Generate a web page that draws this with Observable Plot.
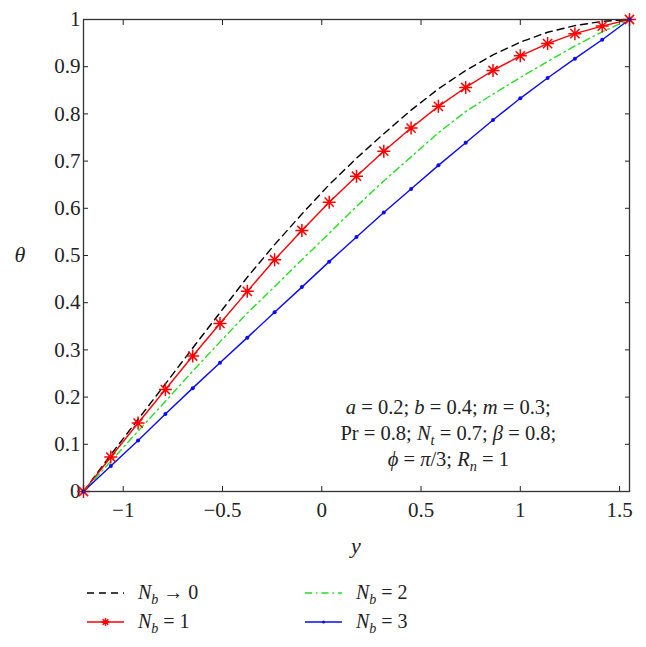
<!DOCTYPE html>
<html><head><meta charset="utf-8">
<script src="https://cdn.jsdelivr.net/npm/d3@7"></script>
<script src="https://cdn.jsdelivr.net/npm/@observablehq/plot@0.6"></script>
<style>
body{margin:0;background:#fff;}
#chart{width:646px;height:647px;position:relative;font-family:"Liberation Serif","Times New Roman",serif;}
#chart text, #chart svg{font-family:"Liberation Serif","Times New Roman","DejaVu Serif",serif !important;}
#legend{position:absolute;left:0;top:565px;}
</style></head><body><div id="chart"></div>
<script>
// ---- data ----
const yPos = [-1.2, -1.0625, -0.925, -0.7875, -0.65, -0.5125, -0.375, -0.2375, -0.1, 0.0375, 0.175,
              0.3125, 0.45, 0.5875, 0.725, 0.8625, 1.0, 1.1375, 1.275, 1.4125, 1.55];
const thetaNb0 = [0, 0.078, 0.153, 0.228, 0.304, 0.379, 0.454, 0.523, 0.588, 0.650, 0.706,
                  0.758, 0.808, 0.853, 0.892, 0.925, 0.952, 0.973, 0.987, 0.996, 1.0];
const thetaNb1 = [0, 0.073, 0.145, 0.216, 0.287, 0.356, 0.424, 0.491, 0.553, 0.613, 0.668,
                  0.721, 0.770, 0.816, 0.856, 0.892, 0.923, 0.949, 0.970, 0.986, 1.0];
const thetaNb2 = [0, 0.064, 0.128, 0.191, 0.255, 0.317, 0.378, 0.434, 0.491, 0.547, 0.604,
                  0.658, 0.709, 0.760, 0.805, 0.842, 0.877, 0.911, 0.944, 0.974, 1.0];
const thetaNb3 = [0, 0.054, 0.108, 0.164, 0.219, 0.273, 0.326, 0.380, 0.433, 0.487, 0.539,
                  0.591, 0.641, 0.691, 0.739, 0.787, 0.833, 0.876, 0.917, 0.957, 1.0];
const xTicks = [-1, -0.5, 0, 0.5, 1, 1.5];
const yTicks = [0, 0.1, 0.2, 0.3, 0.4, 0.5, 0.6, 0.7, 0.8, 0.9, 1];
const seriesNames = ["Nb0", "Nb1", "Nb2", "Nb3"];
const legendLabels = [
  [["N", "i"], ["b", "is"], [" → 0", ""]],
  [["N", "i"], ["b", "is"], [" = 1", ""]],
  [["N", "i"], ["b", "is"], [" = 2", ""]],
  [["N", "i"], ["b", "is"], [" = 3", ""]]
];
const annotationLines = [
  [["a", "i"], [" = 0.2; ", ""], ["b", "i"], [" = 0.4; ", ""], ["m", "i"], [" = 0.3;", ""]],
  [["Pr = 0.8; ", ""], ["N", "i"], ["t", "is"], [" = 0.7; ", ""], ["β", "i"], [" = 0.8;", ""]],
  [["ϕ", "i"], [" = ", ""], ["π", "i"], ["/3; ", ""], ["R", "i"], ["n", "is"], [" = 1", ""]]
];
const annotationAnchor = {y: 0.64, theta: 0.123};

// ---- styles ----
const FONT = "'Liberation Serif', 'Times New Roman', serif";
const styles = {
  Nb0: {stroke: "#000", strokeDasharray: "7,5", strokeWidth: 1.4},
  Nb1: {stroke: "#ff0000", strokeWidth: 1.4},
  Nb2: {stroke: "#22e022", strokeDasharray: "7,4,1.5,4", strokeWidth: 1.4},
  Nb3: {stroke: "#0a0aff", strokeWidth: 1.4}
};
const thetaBySeries = {Nb0: thetaNb0, Nb1: thetaNb1, Nb2: thetaNb2, Nb3: thetaNb3};
const rows = seriesNames.flatMap(s => yPos.map((y, i) => ({series: s, y, theta: thetaBySeries[s][i]})));
const of = s => rows.filter(r => r.series === s);

const star8 = {draw(ctx, size) {
  const r = Math.sqrt(size / Math.PI), d = r * Math.SQRT1_2;
  ctx.moveTo(-r, 0); ctx.lineTo(r, 0); ctx.moveTo(0, -r); ctx.lineTo(0, r);
  ctx.moveTo(-d, -d); ctx.lineTo(d, d); ctx.moveTo(-d, d); ctx.lineTo(d, -d);
}};
const fmt = d => (d < 0 ? "\u2212" : "") + Math.abs(d);

const plot = Plot.plot({
  width: 646, height: 565,
  marginLeft: 83, marginRight: 17, marginTop: 19, marginBottom: 74,
  style: {fontFamily: FONT, fontSize: "21px", color: "#222", background: "#fff"},
  x: {domain: [-1.2, 1.55]},
  y: {domain: [0, 1]},
  marks: [
    Plot.axisX({anchor: "bottom", ticks: xTicks, tickSize: -5, tickPadding: 16, tickFormat: fmt, label: null, fontFamily: FONT}),
    Plot.axisX({anchor: "top", ticks: xTicks, tickSize: -5, tickFormat: () => "", label: null}),
    Plot.axisY({anchor: "left", ticks: yTicks, tickSize: -5, tickPadding: 8, tickFormat: d => String(d), label: null, fontFamily: FONT}),
    Plot.axisY({anchor: "right", ticks: yTicks, tickSize: -5, tickFormat: () => "", label: null}),
    ...seriesNames.map(s => Plot.line(of(s), {x: "y", y: "theta", ...styles[s]})),
    Plot.dot(of("Nb1"), {x: "y", y: "theta", symbol: star8, r: 6.5, stroke: "#ff0000", strokeWidth: 1.5}),
    Plot.dot(of("Nb3"), {x: "y", y: "theta", r: 2, fill: "#0a0aff", stroke: null}),
    Plot.frame({stroke: "#333", strokeWidth: 1.3})
  ]
});
document.getElementById("chart").appendChild(plot);

const svg = d3.select(plot);
const xs = plot.scale("x"), ys = plot.scale("y");
function rich(textSel, segs, size) {
  let lowered = false;
  segs.forEach(([t, f]) => {
    const ts = textSel.append("tspan").text(t);
    if (f.includes("i")) ts.attr("font-style", "italic");
    if (f.includes("s")) {
      ts.attr("font-size", size * 0.7).attr("dy", size * 0.24);
      lowered = true;
    } else if (lowered) {
      ts.attr("dy", -size * 0.24);
      lowered = false;
    }
  });
}
// axis labels
svg.append("text").attr("x", (83 + 629) / 2).attr("y", 553).attr("text-anchor", "middle")
  .attr("font-family", FONT).attr("font-style", "italic").attr("font-size", 22).attr("fill", "#222").text("y");
svg.append("text").attr("x", 20).attr("y", ys.apply(0.5) + 7).attr("text-anchor", "middle")
  .attr("font-family", FONT).attr("font-style", "italic").attr("font-size", 22).attr("fill", "#222").text("θ");
// annotation
const ax = xs.apply(annotationAnchor.y), ay = ys.apply(annotationAnchor.theta);
annotationLines.forEach((segs, i) => {
  const t = svg.append("text").attr("x", ax).attr("y", ay + (i - 1) * 26 + 7)
    .attr("font-family", FONT).attr("text-anchor", "middle").attr("font-size", 20.5).attr("fill", "#222");
  rich(t, segs, 20.5);
});

// legend
const leg = d3.select("#chart").append("svg").attr("id", "legend").attr("width", 646).attr("height", 82)
  .style("font-family", FONT);
const legPos = [[87, 28], [87, 57], [305, 28], [305, 57]];
seriesNames.forEach((s, i) => {
  const [lx, ly] = legPos[i];
  const st = styles[s];
  leg.append("line").attr("x1", lx).attr("x2", lx + 37).attr("y1", ly).attr("y2", ly)
    .attr("stroke", st.stroke).attr("stroke-width", st.strokeWidth)
    .attr("stroke-dasharray", st.strokeDasharray || null);
  if (s === "Nb1") leg.append("path").attr("transform", `translate(${lx + 18.5},${ly})`)
    .attr("d", d3.symbol(star8, Math.PI * 16)()).attr("stroke", "#ff0000").attr("stroke-width", 1.5).attr("fill", "none");
  if (s === "Nb3") leg.append("circle").attr("cx", lx + 18.5).attr("cy", ly).attr("r", 1.5).attr("fill", st.stroke);
  const t = leg.append("text").attr("x", lx + 51).attr("y", ly + 6).attr("font-family", FONT)
    .attr("font-size", 20).attr("fill", "#222");
  rich(t, legendLabels[i], 20);
});
</script></body></html>
